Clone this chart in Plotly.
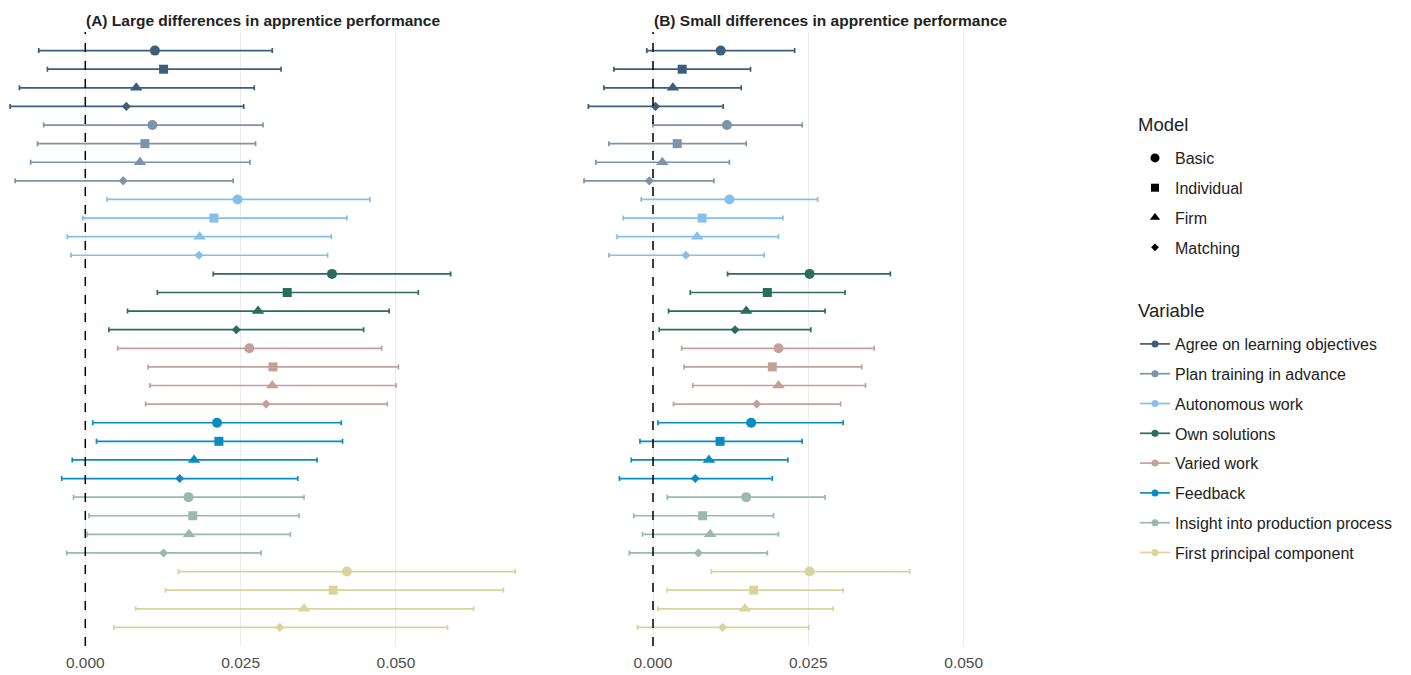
import plotly.graph_objects as go

# Categories
variables = [
    "Agree on learning objectives",
    "Plan training in advance",
    "Autonomous work",
    "Own solutions",
    "Varied work",
    "Feedback",
    "Insight into production process",
    "First principal component",
]
models = ["Basic", "Individual", "Firm", "Matching"]

var_colors = ["#3B5F7A", "#7D93AA", "#86C0EA", "#2C6B60",
              "#C4A09B", "#0A8CC0", "#9AB8B0", "#D9D49C"]
model_symbols = ["circle", "square", "triangle-up", "diamond"]
model_sizes = [10, 9, 11, 7]

# Panel A: large differences (estimate, lower CI, upper CI); 4 models per variable
est_a = [0.0112, 0.0126, 0.0082, 0.0066,
         0.0108, 0.0096, 0.0088, 0.0061,
         0.0245, 0.0207, 0.0184, 0.0183,
         0.0397, 0.0325, 0.0278, 0.0243,
         0.0264, 0.0302, 0.0301, 0.0291,
         0.0212, 0.0215, 0.0175, 0.0152,
         0.0166, 0.0173, 0.0167, 0.0126,
         0.0421, 0.0399, 0.0352, 0.0313]
lo_a = [-0.0075, -0.0061, -0.0106, -0.0121,
        -0.0067, -0.0077, -0.0088, -0.0113,
        0.0035, -0.0004, -0.0029, -0.0023,
        0.0206, 0.0116, 0.0068, 0.0038,
        0.0052, 0.0101, 0.0104, 0.0097,
        0.0012, 0.0018, -0.0021, -0.0038,
        -0.0019, 0.0006, 0.0003, -0.0030,
        0.0150, 0.0129, 0.0081, 0.0046]
hi_a = [0.0301, 0.0315, 0.0272, 0.0255,
        0.0286, 0.0274, 0.0265, 0.0238,
        0.0458, 0.0421, 0.0396, 0.0390,
        0.0588, 0.0536, 0.0489, 0.0448,
        0.0477, 0.0504, 0.0500, 0.0486,
        0.0412, 0.0414, 0.0373, 0.0342,
        0.0352, 0.0344, 0.0330, 0.0283,
        0.0692, 0.0673, 0.0625, 0.0583]

# Panel B: small differences
est_b = [0.0109, 0.0047, 0.0032, 0.0004,
         0.0119, 0.0039, 0.0015, -0.0006,
         0.0123, 0.0079, 0.0071, 0.0053,
         0.0252, 0.0184, 0.0150, 0.0132,
         0.0202, 0.0192, 0.0202, 0.0167,
         0.0158, 0.0108, 0.0090, 0.0068,
         0.0150, 0.0080, 0.0092, 0.0073,
         0.0252, 0.0162, 0.0148, 0.0112]
lo_b = [-0.0010, -0.0063, -0.0079, -0.0104,
        0.0000, -0.0071, -0.0092, -0.0111,
        -0.0019, -0.0048, -0.0058, -0.0071,
        0.0120, 0.0060, 0.0025, 0.0010,
        0.0046, 0.0050, 0.0064, 0.0033,
        0.0008, -0.0021, -0.0035, -0.0054,
        0.0023, -0.0031, -0.0017, -0.0038,
        0.0094, 0.0023, 0.0008, -0.0025]
hi_b = [0.0228, 0.0157, 0.0142, 0.0113,
        0.0240, 0.0150, 0.0123, 0.0098,
        0.0265, 0.0209, 0.0202, 0.0179,
        0.0382, 0.0309, 0.0277, 0.0254,
        0.0356, 0.0336, 0.0342, 0.0302,
        0.0306, 0.0240, 0.0217, 0.0192,
        0.0277, 0.0194, 0.0202, 0.0184,
        0.0413, 0.0306, 0.0290, 0.0251]

panel_titles = ["(A) Large differences in apprentice performance",
                "(B) Small differences in apprentice performance"]
tick_vals = [0.0, 0.025, 0.05]
tick_text = ["0.000", "0.025", "0.050"]

W, H = 1411, 675
FONT = "Liberation Sans, Arial, sans-serif"
fig = go.Figure()

panels = [("x", "y", est_a, lo_a, hi_a), ("x2", "y2", est_b, lo_b, hi_b)]
for xa, ya, est, lo, hi in panels:
    for vi, var in enumerate(variables):
        sl = slice(vi * 4, vi * 4 + 4)
        e, l, h = est[sl], lo[sl], hi[sl]
        rows = [vi * 4 + mi + 1 for mi in range(4)]
        fig.add_trace(go.Scatter(
            x=e, y=rows, xaxis=xa, yaxis=ya, mode="markers", opacity=1,
            marker=dict(color=var_colors[vi], symbol=model_symbols,
                        size=model_sizes, opacity=1, line=dict(width=0)),
            error_x=dict(type="data", symmetric=False,
                         array=[b - a for a, b in zip(e, h)],
                         arrayminus=[a - b for a, b in zip(e, l)],
                         color=var_colors[vi], thickness=1.7, width=2.5),
            showlegend=False, hoverinfo="skip",
        ))

# Legend entries: model shapes
for mi, m in enumerate(models):
    fig.add_trace(go.Scatter(
        x=[None], y=[None], mode="markers", name=m,
        marker=dict(color="black", symbol=model_symbols[mi],
                    size=[9, 8, 9, 6][mi]),
        legend="legend", legendgroup="m" + m,
    ))
# Legend entries: variable colours
for vi, v in enumerate(variables):
    fig.add_trace(go.Scatter(
        x=[None], y=[None], mode="lines+markers", name=v,
        line=dict(color=var_colors[vi], width=1.7),
        marker=dict(color=var_colors[vi], symbol="circle", size=7),
        legend="legend2", legendgroup="v" + v,
    ))

# Plot-area geometry (pixels)
top_px, bot_px = 32, 646
scale = 6213.0  # pixels per unit
a_left, a_right, a_zero = 0, 540, 85.3
b_left, b_right, b_zero = 553, 1108, 653.0

def xrange(left, right, zero):
    return [(left - zero) / scale, (right - zero) / scale]

ydom = [1 - bot_px / H, 1 - top_px / H]
axis_common = dict(tickvals=tick_vals, ticktext=tick_text, showgrid=True,
                   gridcolor="#EBEBEB", gridwidth=1, zeroline=False,
                   showline=False, ticks="", ticklabelstandoff=5,
                   tickfont=dict(family=FONT, size=15.5, color="#4D4D4D"),
                   fixedrange=True)
yaxis_common = dict(range=[33, 0], domain=ydom, visible=False,
                    showgrid=False, zeroline=False, fixedrange=True)

legend_common = dict(x=1135 / W, xanchor="left", yanchor="top",
                     font=dict(family=FONT, size=16, color="#222222"),
                     tracegroupgap=6, bgcolor="rgba(0,0,0,0)", itemwidth=30)

fig.update_layout(
    width=W, height=H,
    margin=dict(l=0, r=0, t=0, b=0),
    paper_bgcolor="white", plot_bgcolor="white",
    font=dict(family=FONT, color="#222222"),
    xaxis=dict(domain=[a_left / W, a_right / W],
               range=xrange(a_left, a_right, a_zero), anchor="y", **axis_common),
    xaxis2=dict(domain=[b_left / W, b_right / W],
                range=xrange(b_left, b_right, b_zero), anchor="y2", **axis_common),
    yaxis=dict(anchor="x", **yaxis_common),
    yaxis2=dict(anchor="x2", **yaxis_common),
    legend=dict(y=1 - 141 / H, **legend_common),
    legend2=dict(y=1 - 327 / H, **legend_common),
)

# Legend headings
for text, ypx in [("Model", 125), ("Variable", 311)]:
    fig.add_annotation(text=text, xref="paper", yref="paper",
                       x=1136 / W, y=1 - ypx / H, xanchor="left",
                       yanchor="middle", showarrow=False,
                       font=dict(family=FONT, size=18.5, color="#222222"))

# Dashed reference line at zero in both panels
for xa, ya in [("x", "y"), ("x2", "y2")]:
    fig.add_shape(type="line", xref=xa, yref=ya + " domain", x0=0, x1=0,
                  y0=0, y1=1, line=dict(color="black", width=1.5, dash="dash"))

# Panel titles
for (left, right), title in zip([(-15, 540), (553, 1108)], panel_titles):
    fig.add_annotation(text="<b>" + title + "</b>", xref="paper", yref="paper",
                       x=(left + right) / 2 / W, y=1 - 20 / H,
                       xanchor="center", yanchor="middle", showarrow=False,
                       font=dict(family=FONT, size=15.5, color="#222222"))

fig.write_html("out.html")
